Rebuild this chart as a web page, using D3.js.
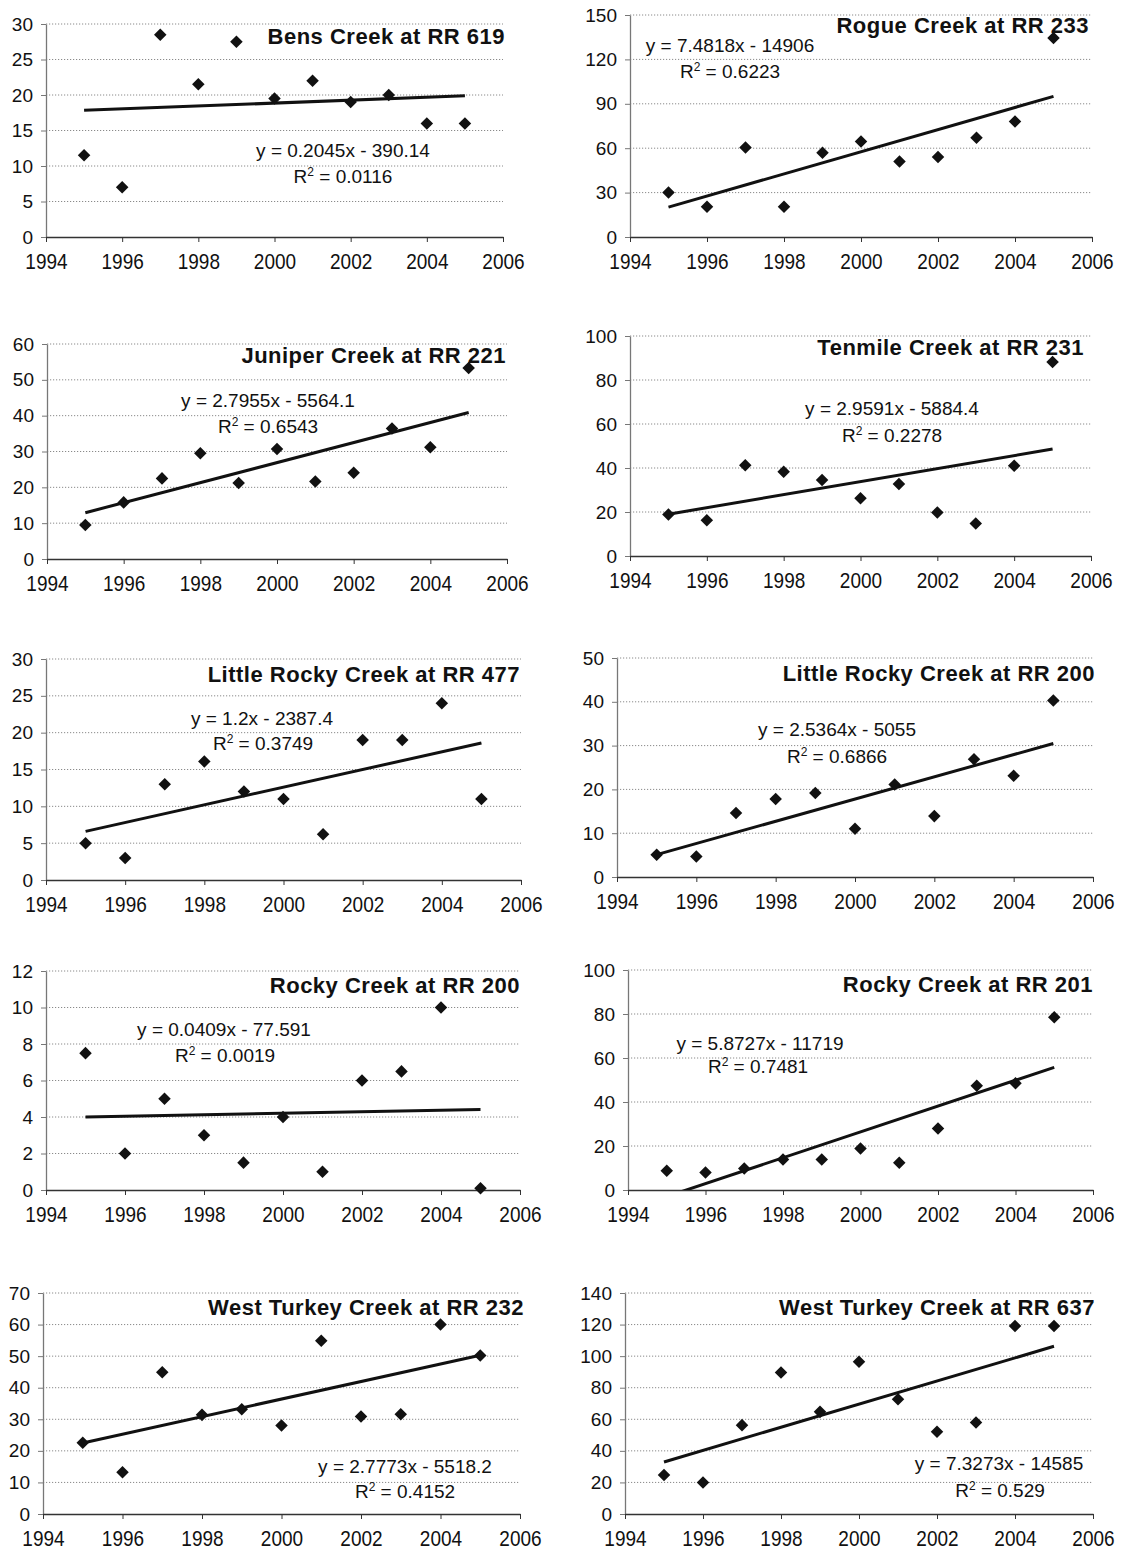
<!DOCTYPE html>
<html>
<head>
<meta charset="utf-8">
<script src="https://cdn.jsdelivr.net/npm/d3@7"></script>
<style>
  body { margin: 0; background: #fff; }
  svg { display: block; font-family: Arial, "Liberation Sans", sans-serif; }
</style>
</head>
<body>
<svg id="chart" width="1125" height="1551"></svg>
<script>
const years = [1995, 1996, 1997, 1998, 1999, 2000, 2001, 2002, 2003, 2004, 2005]
const xTicks = [1994, 1996, 1998, 2000, 2002, 2004, 2006]

const titles = [
  'Bens Creek at RR 619', 'Rogue Creek at RR 233',
  'Juniper Creek at RR 221', 'Tenmile Creek at RR 231',
  'Little Rocky Creek at RR 477', 'Little Rocky Creek at RR 200',
  'Rocky Creek at RR 200', 'Rocky Creek at RR 201',
  'West Turkey Creek at RR 232', 'West Turkey Creek at RR 637'
]

const bensCreek = [11.5, 7, 28.5, 21.5, 27.5, 19.5, 22, 19, 20, 16, 16]
const rogueCreek = [30, 20.5, 60.5, 20.5, 57, 64.5, 51, 54, 67, 78, 134.5]
const juniperCreek = [9.5, 15.8, 22.5, 29.5, 21.2, 30.7, 21.6, 24.1, 36.4, 31.2, 53.3]
const tenmileCreek = [18.9, 16.3, 41.3, 38.3, 34.5, 26.2, 32.7, 19.8, 14.8, 41, 88.2]
const littleRocky477 = [5, 3, 13, 16.1, 12, 11, 6.2, 19, 19, 24, 11]
const littleRocky200 = [5.1, 4.7, 14.6, 17.8, 19.2, 11, 21.1, 13.9, 26.9, 23.1, 40.3]
const rocky200 = [7.5, 2, 5, 3, 1.5, 4, 1, 6, 6.5, 10, 0.1]
const rocky201 = [8.8, 8, 9.8, 13.9, 13.9, 18.9, 12.4, 28, 47.4, 48.5, 78.5]
const westTurkey232 = [22.6, 13.2, 44.9, 31.4, 33.2, 28, 54.9, 30.9, 31.6, 60, 50.2]
const westTurkey637 = [24.7, 20, 56.3, 89.6, 64.7, 96.4, 72.7, 52.1, 58, 119.1, 119.1]

const series = [bensCreek, rogueCreek, juniperCreek, tenmileCreek, littleRocky477,
  littleRocky200, rocky200, rocky201, westTurkey232, westTurkey637]

const yMax = [30, 150, 60, 100, 30, 50, 12, 100, 70, 140]
const yStep = [5, 30, 10, 20, 5, 10, 2, 20, 10, 20]

// trendline coefficients as printed on each chart
const slopes = [0.2045, 7.4818, 2.7955, 2.9591, 1.2, 2.5364, 0.0409, 5.8727, 2.7773, 7.3273]
const intercepts = [-390.14, -14906, -5564.1, -5884.4, -2387.4, -5055, -77.591, -11719, -5518.2, -14585]
const eqLabels = [
  'y = 0.2045x - 390.14', 'y = 7.4818x - 14906', 'y = 2.7955x - 5564.1',
  'y = 2.9591x - 5884.4', 'y = 1.2x - 2387.4', 'y = 2.5364x - 5055',
  'y = 0.0409x - 77.591', 'y = 5.8727x - 11719', 'y = 2.7773x - 5518.2',
  'y = 7.3273x - 14585'
]
const r2Labels = ['0.0116', '0.6223', '0.6543', '0.2278', '0.3749', '0.6866',
  '0.0019', '0.7481', '0.4152', '0.529']

// where each little chart sits on the page
const layout = [
  { l: 46, r: 503, t: 24, b: 237, tx: 505, ty: 44, eq: [343, 157], rs: [343, 183] },
  { l: 630, r: 1092, t: 15, b: 237, tx: 1089, ty: 33, eq: [730, 52], rs: [730, 78] },
  { l: 47, r: 507, t: 344, b: 559, tx: 506, ty: 363, eq: [268, 407], rs: [268, 433] },
  { l: 630, r: 1091, t: 336, b: 556, tx: 1084, ty: 355, eq: [892, 415], rs: [892, 442] },
  { l: 46, r: 521, t: 659, b: 880, tx: 520, ty: 682, eq: [262, 725], rs: [263, 750] },
  { l: 617, r: 1093, t: 658, b: 877, tx: 1095, ty: 681, eq: [837, 736], rs: [837, 763] },
  { l: 46, r: 520, t: 971, b: 1190, tx: 520, ty: 993, eq: [224, 1036], rs: [225, 1062] },
  { l: 628, r: 1093, t: 970, b: 1190, tx: 1093, ty: 992, eq: [760, 1050], rs: [758, 1073] },
  { l: 43, r: 520, t: 1293, b: 1514, tx: 524, ty: 1315, eq: [405, 1473], rs: [405, 1498] },
  { l: 625, r: 1093, t: 1293, b: 1514, tx: 1095, ty: 1315, eq: [999, 1470], rs: [1000, 1497] }
]

const svg = d3.select('#chart')
svg.append('rect').attr('width', 1125).attr('height', 1551).attr('fill', '#fff')

const defs = svg.append('defs')

layout.forEach((p, idx) => {
  const x = d3.scaleLinear().domain([1994, 2006]).range([p.l, p.r])
  const y = d3.scaleLinear().domain([0, yMax[idx]]).range([p.b, p.t])
  const yTicks = d3.range(0, yMax[idx] + yStep[idx] / 2, yStep[idx])
  const g = svg.append('g')

  // dotted gridlines
  g.selectAll('line.grid')
    .data(yTicks.filter(d => d > 0))
    .join('line')
    .attr('class', 'grid')
    .attr('x1', p.l).attr('x2', p.r)
    .attr('y1', d => y(d)).attr('y2', d => y(d))
    .attr('stroke', '#8a8a8a')
    .attr('stroke-width', 1)
    .attr('stroke-dasharray', '1.2,1.8')

  const yAxis = g.append('g')
    .attr('transform', `translate(${p.l},0)`)
    .call(d3.axisLeft(y).tickValues(yTicks).tickSize(5).tickSizeOuter(0).tickPadding(8))
  yAxis.select('.domain').attr('stroke', '#777').attr('stroke-width', 1.3)
  yAxis.selectAll('.tick line').attr('stroke', '#777')
  yAxis.selectAll('.tick text')
    .attr('fill', '#111')
    .style('font-size', '19px')
    .style('font-family', 'Arial, "Liberation Sans", sans-serif')

  const xAxis = g.append('g')
    .attr('transform', `translate(0,${p.b})`)
    .call(d3.axisBottom(x).tickValues(xTicks).tickFormat(d3.format('d')).tickSize(5).tickSizeOuter(0))
  xAxis.select('.domain').attr('stroke', '#333').attr('stroke-width', 1.5)
  xAxis.selectAll('.tick line').attr('stroke', '#333')
  xAxis.selectAll('.tick text')
    .attr('fill', '#111')
    .attr('y', 28)
    .attr('dy', 0)
    .attr('transform', 'scale(1,1.15)')
    .style('font-size', '19px')
    .style('font-family', 'Arial, "Liberation Sans", sans-serif')

  // trendline, clipped to the plot area
  const clipId = 'clip' + idx
  defs.append('clipPath').attr('id', clipId)
    .append('rect')
    .attr('x', p.l).attr('y', p.t)
    .attr('width', p.r - p.l).attr('height', p.b - p.t)

  const trend = d3.line()
    .x(d => x(d))
    .y(d => y(slopes[idx] * d + intercepts[idx]))

  g.append('path')
    .datum([years[0], years[years.length - 1]])
    .attr('d', trend)
    .attr('clip-path', `url(#${clipId})`)
    .attr('fill', 'none')
    .attr('stroke', '#111')
    .attr('stroke-width', 3)

  g.selectAll('path.pt')
    .data(series[idx])
    .join('path')
    .attr('class', 'pt')
    .attr('d', d3.symbol().type(d3.symbolDiamond2).size(100))
    .attr('transform', (d, i) => `translate(${x(years[i])},${y(d)})`)
    .attr('fill', '#111')

  g.append('text')
    .attr('x', p.tx).attr('y', p.ty)
    .attr('text-anchor', 'end')
    .style('font-size', '22px')
    .style('font-weight', 'bold')
    .style('letter-spacing', '0.5px')
    .attr('fill', '#111')
    .text(titles[idx])

  g.append('text')
    .attr('x', p.eq[0]).attr('y', p.eq[1])
    .attr('text-anchor', 'middle')
    .style('font-size', '19px')
    .attr('fill', '#111')
    .text(eqLabels[idx])

  const r2 = g.append('text')
    .attr('x', p.rs[0]).attr('y', p.rs[1])
    .attr('text-anchor', 'middle')
    .style('font-size', '19px')
    .attr('fill', '#111')
  r2.append('tspan').text('R')
  r2.append('tspan').attr('dy', -7).style('font-size', '12px').text('2')
  r2.append('tspan').attr('dy', 7).text(' = ' + r2Labels[idx])
})
</script>
</body>
</html>
